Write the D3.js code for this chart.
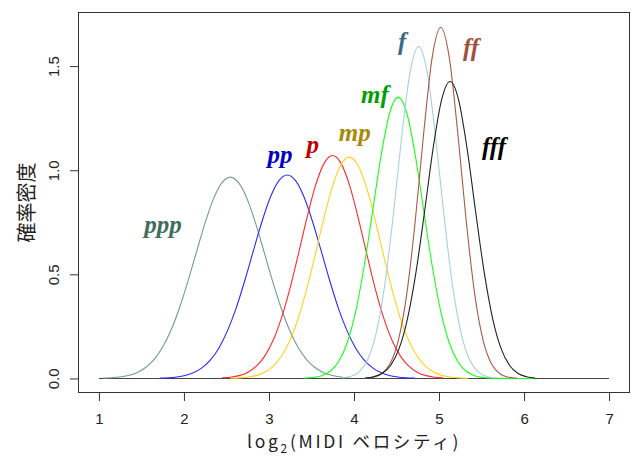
<!DOCTYPE html>
<html>
<head>
<meta charset="utf-8">
<script src="https://cdn.jsdelivr.net/npm/d3@7"></script>
<style>
  html, body { margin: 0; padding: 0; background: #fff; }
  svg { display: block; }
</style>
</head>
<body>
<div id="chart"></div>
<script>
// ---- data ----
const dynamics = ["ppp", "pp", "p", "mp", "mf", "f", "ff", "fff"];
// first x value (log2 velocity) of each sampled curve; samples every 0.1
const xStart = [1.045, 1.715, 2.448, 2.545, 3.42, 3.86, 4.12, 4.13];
const xStep = 0.1;

const density_ppp = [0.0013, 0.0031, 0.0067, 0.0141, 0.0276, 0.0512, 0.0895, 0.1475, 0.229, 0.336, 0.464, 0.604, 0.742, 0.860, 0.939, 0.967, 0.939, 0.860, 0.742, 0.604, 0.464, 0.336, 0.229, 0.1475, 0.0895, 0.0512, 0.0276, 0.0141, 0.0067, 0.0031];
const density_pp  = [0.0013, 0.0031, 0.0068, 0.0142, 0.0279, 0.0517, 0.0904, 0.149, 0.232, 0.339, 0.469, 0.611, 0.750, 0.869, 0.949, 0.977, 0.949, 0.869, 0.750, 0.611, 0.469, 0.339, 0.232, 0.149, 0.0904, 0.0517, 0.0279, 0.0142, 0.0068, 0.0031, 0.0013];
const density_p   = [0.0024, 0.0059, 0.0135, 0.0289, 0.0574, 0.106, 0.182, 0.292, 0.434, 0.601, 0.774, 0.927, 1.033, 1.071, 1.033, 0.927, 0.774, 0.601, 0.434, 0.292, 0.182, 0.106, 0.0574, 0.0289, 0.0135, 0.0059, 0.0024];
const density_mp  = [0.0009, 0.0024, 0.0058, 0.0134, 0.0287, 0.0569, 0.105, 0.181, 0.289, 0.431, 0.596, 0.768, 0.920, 1.025, 1.063, 1.025, 0.920, 0.768, 0.596, 0.431, 0.289, 0.181, 0.105, 0.0569, 0.0287, 0.0134, 0.0058, 0.0024, 0.0009];
const density_mf  = [0.0013, 0.0044, 0.0130, 0.0345, 0.0814, 0.1716, 0.322, 0.540, 0.806, 1.074, 1.276, 1.351, 1.276, 1.074, 0.806, 0.540, 0.322, 0.1716, 0.0814, 0.0345, 0.0130, 0.0044, 0.0013, 0.0003, 0, 0, 0, 0];
const density_f   = [0.0025, 0.0095, 0.0316, 0.0895, 0.216, 0.443, 0.776, 1.158, 1.472, 1.595, 1.472, 1.158, 0.776, 0.443, 0.216, 0.0895, 0.0316, 0.0095, 0.0025];
const density_ff  = [0.0012, 0.0055, 0.0211, 0.0676, 0.1805, 0.404, 0.755, 1.180, 1.543, 1.687, 1.543, 1.180, 0.755, 0.404, 0.1805, 0.0676, 0.0211, 0.0055, 0.0012];
const density_fff = [0.0024, 0.0081, 0.0239, 0.0623, 0.1429, 0.289, 0.513, 0.802, 1.104, 1.338, 1.426, 1.338, 1.104, 0.802, 0.513, 0.289, 0.1429, 0.0623, 0.0239, 0.0081, 0.0024];

// label anchor positions in data units (x = log2 velocity, y = density at text baseline)
const labelX = [1.754, 3.130, 3.514, 4.008, 4.247, 4.565, 5.376, 5.647];
const labelY = [0.699, 1.036, 1.084, 1.139, 1.323, 1.577, 1.551, 1.073];

const xTicks = [1, 2, 3, 4, 5, 6, 7];
const yTicks = [0, 0.5, 1.0, 1.5];
const xTitleMain = "log";
const xTitleSub = "2";
const xTitleRest = "(MIDI ベロシティ)";
const yTitle = "確率密度";

// ---- styles ----
const curveColors = ["#6e9f8b", "#2a2aff", "#ff2a2a", "#ffd21a", "#1aff1a", "#a7cfe3", "#a85a48", "#222222"];
const labelColors = ["#3f6e5d", "#0000c0", "#c00000", "#a88a06", "#00a000", "#3a6a88", "#a0523d", "#000000"];

const W = 634, H = 462;
const svg = d3.select("#chart").append("svg").attr("width", W).attr("height", H);

const plotL = 78.5, plotR = 629.5, plotT = 12.5, plotB = 392.5;
const x = d3.scaleLinear().domain([0.76, 7.24]).range([plotL, plotR]);
const y = d3.scaleLinear().domain([-0.0676, 1.7576]).range([plotB, plotT]);

const series = [density_ppp, density_pp, density_p, density_mp, density_mf, density_f, density_ff, density_fff];

// zero baseline from 1 to 7
svg.append("line")
  .attr("x1", x(1)).attr("x2", x(7))
  .attr("y1", y(0)).attr("y2", y(0))
  .attr("stroke", "#444").attr("stroke-width", 1.1);

const line = d3.line()
  .x(d => x(d[0]))
  .y(d => y(d[1]))
  .curve(d3.curveMonotoneX);

series.forEach((vals, i) => {
  const pts = vals.map((v, j) => [xStart[i] + j * xStep, v]);
  svg.append("path")
    .datum(pts)
    .attr("d", line)
    .attr("fill", "none")
    .attr("stroke", curveColors[i])
    .attr("stroke-width", 1.1);
});

// box
svg.append("rect")
  .attr("x", plotL).attr("y", plotT)
  .attr("width", plotR - plotL).attr("height", plotB - plotT)
  .attr("fill", "none").attr("stroke", "#333").attr("stroke-width", 1);

// axes
const xAxis = svg.append("g")
  .attr("transform", `translate(0,${plotB})`)
  .call(d3.axisBottom(x).tickValues(xTicks).tickFormat(d3.format("d")).tickSize(8.5).tickSizeOuter(0).tickPadding(12));
xAxis.select(".domain").remove();
xAxis.selectAll(".tick line").attr("stroke", "#333");
xAxis.selectAll(".tick text")
  .attr("font-family", "'Liberation Sans', Arial, sans-serif")
  .attr("font-size", 15).attr("fill", "#222");

const yAxis = svg.append("g")
  .attr("transform", `translate(${plotL},0)`)
  .call(d3.axisLeft(y).tickValues(yTicks).tickFormat(d3.format(".1f")).tickSize(8.5).tickSizeOuter(0));
yAxis.select(".domain").remove();
yAxis.selectAll(".tick line").attr("stroke", "#333");
yAxis.selectAll(".tick text")
  .attr("transform", "rotate(-90)")
  .attr("x", 0).attr("y", -19.8).attr("dy", 0).attr("dx", 0)
  .attr("text-anchor", "middle")
  .attr("font-family", "'Liberation Sans', Arial, sans-serif")
  .attr("font-size", 15).attr("fill", "#222");

// titles
const xt = svg.append("text")
  .attr("x", (plotL + plotR) / 2).attr("y", 447.5)
  .attr("text-anchor", "middle")
  .attr("font-family", "'Noto Sans CJK JP', 'Noto Sans', sans-serif")
  .attr("font-size", 17.5).attr("fill", "#222");
xt.append("tspan").text(xTitleMain);
xt.append("tspan").attr("dy", 5).attr("font-size", 12).text(xTitleSub);
xt.append("tspan").attr("dy", -5).text(xTitleRest);
// widen letter spacing a little so the title spans about the same width as in the reference
const targetW = 214;
const nChars = (xTitleMain + xTitleSub + xTitleRest).length;
const curW = xt.node().getComputedTextLength();
if (curW < targetW) xt.attr("letter-spacing", ((targetW - curW) / nChars).toFixed(2));

svg.append("text")
  .attr("transform", `translate(25,${(plotT + plotB) / 2}) rotate(-90)`)
  .attr("text-anchor", "middle")
  .attr("dominant-baseline", "central")
  .attr("font-family", "'Noto Sans CJK JP', sans-serif")
  .attr("font-size", 20).attr("fill", "#222")
  .text(yTitle);

// dynamic labels
dynamics.forEach((d, i) => {
  svg.append("text")
    .attr("x", x(labelX[i])).attr("y", y(labelY[i]))
    .attr("text-anchor", "middle")
    .attr("font-family", "'Liberation Serif', 'DejaVu Serif', serif")
    .attr("font-style", "italic").attr("font-weight", "bold")
    .attr("font-size", 25)
    .attr("fill", labelColors[i])
    .text(d);
});
</script>
</body>
</html>
